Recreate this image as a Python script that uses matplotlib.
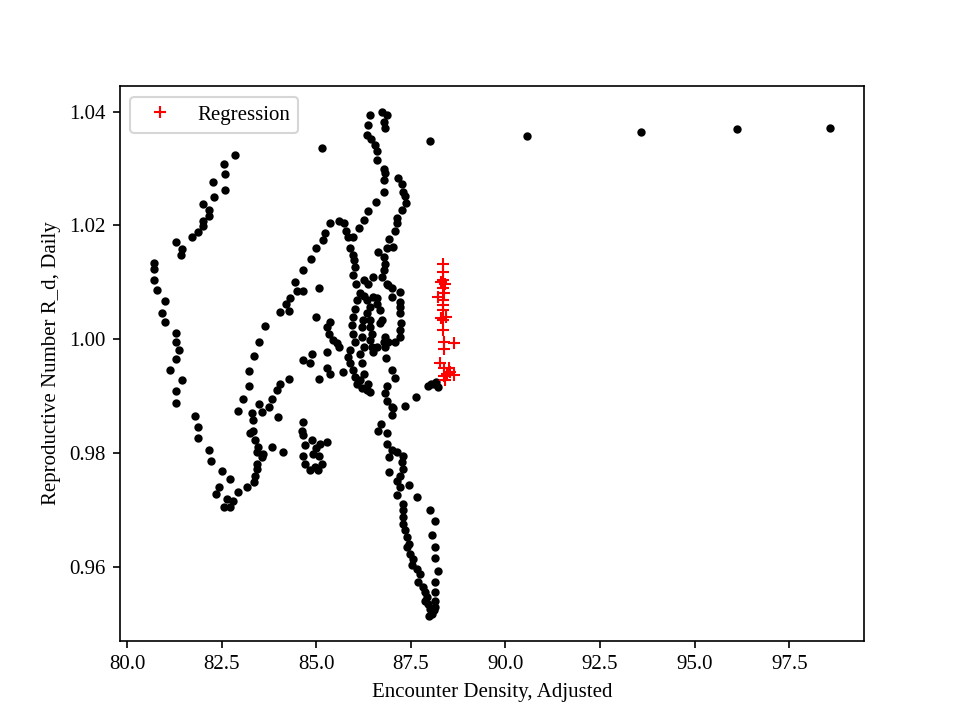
import numpy as np
import matplotlib
matplotlib.use("Agg")
import matplotlib.pyplot as plt

plt.rcParams['font.family'] = ['Liberation Serif', 'DejaVu Serif']

far_right_x = [85.16, 88.01, 90.57, 93.59, 96.12, 98.58]
far_right_y = [1.0336, 1.0348, 1.0357, 1.0364, 1.0370, 1.0371]

left_loop_x = [82.86, 82.57, 82.58, 82.28, 82.58, 82.29, 82.02, 82.16, 82.16, 82.00,
               82.02, 81.87, 81.72, 81.29, 81.45, 81.44, 80.71, 80.71, 80.71, 80.80,
               81.01, 80.93, 81.01, 81.29, 81.29, 81.37, 81.29, 81.14, 81.45, 81.29,
               81.29, 81.79, 81.87, 81.87, 82.16, 82.22, 82.50, 82.72, 82.44, 82.35,
               82.65, 82.56, 82.72, 82.80, 82.94, 83.16, 83.36]
left_loop_y = [1.0323, 1.0308, 1.0291, 1.0276, 1.0262, 1.0250, 1.0238, 1.0227, 1.0217, 1.0208,
               1.0199, 1.0189, 1.0179, 1.0171, 1.0159, 1.0148, 1.0134, 1.0123, 1.0104, 1.0087,
               1.0067, 1.0047, 1.0030, 1.0011, 0.9996, 0.9981, 0.9965, 0.9947, 0.9929, 0.9909,
               0.9889, 0.9866, 0.9846, 0.9826, 0.9805, 0.9786, 0.9769, 0.9754, 0.9741, 0.9728,
               0.9720, 0.9705, 0.9705, 0.9717, 0.9732, 0.9741, 0.9749]

inner_low_x = [83.38, 83.43, 83.43, 83.56, 83.60, 83.43, 83.47, 83.83, 84.13, 83.38,
               83.25, 83.34, 83.34, 83.30, 83.56, 83.50, 83.74, 84.00, 83.83, 83.96,
               84.04, 84.29]
inner_low_y = [0.9761, 0.9773, 0.9782, 0.9793, 0.9799, 0.9802, 0.9811, 0.9811, 0.9802, 0.9823,
               0.9835, 0.9840, 0.9858, 0.9870, 0.9873, 0.9886, 0.9881, 0.9863, 0.9896, 0.9911,
               0.9921, 0.9931]

diag_x = [82.94, 83.07, 83.23, 83.23, 83.36, 83.50, 83.66, 84.04, 84.20, 84.31,
          84.49, 84.64, 84.29, 84.45, 84.66, 84.87, 85.00, 85.17, 85.23, 85.37,
          85.59, 85.74, 85.80, 85.85, 85.89, 85.98, 86.00, 86.03, 85.98, 86.06,
          85.08]
diag_y = [0.9874, 0.9896, 0.9919, 0.9944, 0.9970, 0.9996, 1.0023, 1.0048, 1.0063, 1.0072,
          1.0085, 1.0085, 1.0050, 1.0101, 1.0122, 1.0141, 1.0160, 1.0174, 1.0186, 1.0205,
          1.0208, 1.0204, 1.0191, 1.0179, 1.0160, 1.0148, 1.0139, 1.0127, 1.0113, 1.0098,
          1.0090]

top_lobe_x = [86.41, 86.38, 86.35, 86.45, 86.56, 86.60, 86.60, 86.78, 86.82, 86.78,
              86.78, 86.58, 86.38, 86.25, 86.14, 85.98, 86.73, 86.86, 86.79, 86.82]
top_lobe_y = [1.0394, 1.0377, 1.0359, 1.0352, 1.0341, 1.0330, 1.0315, 1.0300, 1.0292, 1.0280,
              1.0259, 1.0242, 1.0226, 1.0210, 1.0195, 1.0180, 1.0400, 1.0394, 1.0382, 1.0371]

right_lobe_x = [87.17, 87.26, 87.30, 87.35, 87.38, 87.26, 87.13, 87.13, 87.08, 86.93,
                86.86, 87.03, 86.64, 86.78, 86.82, 86.78, 86.73, 86.86, 87.00, 87.22,
                87.00, 87.22, 87.22, 87.22, 87.24, 87.22, 87.22, 87.08, 86.91, 86.82]
right_lobe_y = [1.0283, 1.0273, 1.0259, 1.0251, 1.0239, 1.0227, 1.0214, 1.0204, 1.0191, 1.0176,
                1.0160, 1.0162, 1.0154, 1.0145, 1.0133, 1.0122, 1.0110, 1.0098, 1.0090, 1.0084,
                1.0075, 1.0066, 1.0057, 1.0046, 1.0028, 1.0016, 1.0004, 0.9996, 0.9996, 1.0004]

center_x = [86.25, 86.51, 86.16, 86.07, 86.03, 85.98, 85.94, 85.98, 86.03, 85.89,
            85.85, 85.89, 85.98, 86.03, 86.07, 86.20, 86.34, 86.42,
            86.27, 86.34, 86.42, 86.34, 86.24, 86.20, 86.20, 86.25, 86.16, 86.20,
            86.25, 86.16, 86.38,
            86.51, 86.60, 86.69, 86.73, 86.42, 86.42, 86.47, 86.42, 86.47, 86.51,
            86.60, 86.69, 86.78, 86.82, 86.84, 87.00, 87.08, 86.86, 86.82, 86.86,
            87.00, 86.38, 86.60, 86.91]
center_y = [1.0104, 1.0110, 1.0081, 1.0069, 1.0054, 1.0040, 1.0025, 1.0010, 0.9996, 0.9981,
            0.9969, 0.9958, 0.9946, 0.9934, 0.9922, 0.9914, 0.9911, 0.9908,
            1.0076, 1.0069, 1.0057, 1.0046, 1.0034, 1.0022, 1.0004, 0.9987, 0.9975, 0.9958,
            0.9940, 0.9928, 0.9922,
            1.0075, 1.0063, 1.0051, 1.0034, 1.0034, 1.0022, 1.0010, 0.9999, 0.9987, 0.9978,
            0.9987, 1.0028, 0.9996, 0.9987, 0.9967, 0.9947, 0.9933, 0.9919, 0.9905, 0.9892,
            0.9881, 1.0098, 1.0072, 1.0095]

bridge_x = [87.35, 87.64, 87.96, 88.10, 88.17, 88.23, 88.04]
bridge_y = [0.9883, 0.9899, 0.9919, 0.9922, 0.9925, 0.9916, 0.9921]

mid_left_x = [85.00, 85.37, 85.29, 85.35, 85.45, 85.59, 85.28, 84.88, 84.66, 84.84,
              85.29, 85.37, 85.08, 85.72, 85.54]
mid_left_y = [1.0040, 1.0031, 1.0022, 1.0010, 0.9999, 0.9987, 0.9978, 0.9975, 0.9963, 0.9958,
              0.9949, 0.9940, 0.9931, 0.9943, 0.9993]

mid_low_x = [84.66, 84.62, 84.66, 84.71, 84.88, 85.10, 85.29, 84.92, 85.08, 85.15,
             84.97, 84.84, 84.71, 84.64, 85.00, 85.05]
mid_low_y = [0.9855, 0.9840, 0.9832, 0.9814, 0.9823, 0.9817, 0.9820, 0.9799, 0.9795, 0.9782,
             0.9776, 0.9770, 0.9782, 0.9796, 0.9810, 0.9770]

tail_x = [87.04, 87.00, 86.71, 86.64, 86.86, 86.86, 87.00, 87.13, 87.30, 86.93,
          87.26, 87.29, 86.93, 87.22, 87.13, 87.22, 87.44, 87.13, 87.66, 87.30,
          87.30, 87.30, 87.30, 87.35, 87.39, 87.44, 87.39, 87.48, 87.57, 87.53,
          87.66, 87.75, 87.70, 87.83, 87.88, 87.92, 87.88, 87.96, 88.01, 88.05,
          87.97, 88.10, 88.14, 88.14, 88.14, 88.14, 88.23, 88.14, 88.14, 88.05,
          88.14, 88.01]
tail_y = [0.9879, 0.9867, 0.9852, 0.9840, 0.9835, 0.9817, 0.9805, 0.9802, 0.9796, 0.9793,
          0.9785, 0.9773, 0.9768, 0.9761, 0.9752, 0.9740, 0.9745, 0.9726, 0.9723, 0.9711,
          0.9700, 0.9688, 0.9676, 0.9665, 0.9653, 0.9641, 0.9635, 0.9624, 0.9615, 0.9603,
          0.9597, 0.9588, 0.9574, 0.9565, 0.9556, 0.9547, 0.9541, 0.9536, 0.9527, 0.9518,
          0.9515, 0.9524, 0.9530, 0.9541, 0.9556, 0.9574, 0.9594, 0.9616, 0.9636, 0.9657,
          0.9681, 0.9701]

# regression points (red crosses)
reg_x = [88.35, 88.35, 88.35, 88.30, 88.41, 88.35, 88.23, 88.38, 88.35, 88.35,
         88.35, 88.30, 88.43, 88.35, 88.35, 88.37, 88.63, 88.37, 88.27, 88.39,
         88.50, 88.46, 88.63, 88.37, 88.41, 88.53]
reg_y = [1.0133, 1.0119, 1.0104, 1.0101, 1.0098, 1.0090, 1.0075, 1.0081, 1.0069, 1.0060,
         1.0051, 1.0038, 1.0039, 1.0034, 1.0016, 0.9996, 0.9993, 0.9984, 0.9958, 0.9949,
         0.9949, 0.9940, 0.9937, 0.9935, 0.9928, 0.9943]

obs_x = np.concatenate([left_loop_x, inner_low_x, diag_x, top_lobe_x, right_lobe_x,
                        center_x, bridge_x, mid_left_x, mid_low_x, tail_x, far_right_x])
obs_y = np.concatenate([left_loop_y, inner_low_y, diag_y, top_lobe_y, right_lobe_y,
                        center_y, bridge_y, mid_left_y, mid_low_y, tail_y, far_right_y])

fig = plt.figure(figsize=(6.4, 4.8), dpi=150)
plt.plot(obs_x, obs_y, 'k.')
plt.plot(reg_x, reg_y, 'r+', label='Regression')
plt.xlabel('Encounter Density, Adjusted')
plt.ylabel('Reproductive Number R_d, Daily')
plt.legend(loc='upper left')
plt.savefig('out.png')
